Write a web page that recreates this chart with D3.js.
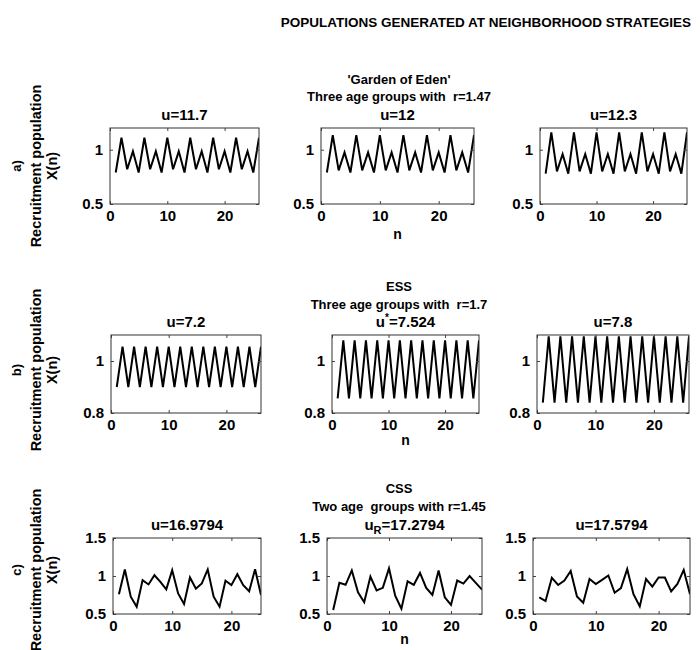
<!DOCTYPE html>
<html>
<head>
<meta charset="utf-8">
<script src="https://cdn.jsdelivr.net/npm/d3@7"></script>
<style>
  body { margin: 0; background: #fff; }
  text { font-family: "Liberation Sans", Arial, sans-serif; fill: #000; }
</style>
</head>
<body>
<svg id="fig" width="700" height="650"></svg>
<script>
// ---- time steps ----
const steps26 = [1,2,3,4,5,6,7,8,9,10,11,12,13,14,15,16,17,18,19,20,21,22,23,24,25,26];
const steps25 = [1,2,3,4,5,6,7,8,9,10,11,12,13,14,15,16,17,18,19,20,21,22,23,24,25];

// ---- row a: 'Garden of Eden', three age groups, r = 1.47 ----
const edenU117 = [0.79,1.11,0.82,0.985,0.79,1.11,0.82,0.985,0.79,1.11,0.82,0.985,0.79,1.11,0.82,0.985,0.79,1.11,0.82,0.985,0.79,1.11,0.82,0.985,0.79,1.11];
const edenU12  = [0.79,1.135,0.81,0.975,0.79,1.135,0.81,0.975,0.79,1.135,0.81,0.975,0.79,1.135,0.81,0.975,0.79,1.135,0.81,0.975,0.79,1.135,0.81,0.975,0.79,1.135];
const edenU123 = [0.78,1.16,0.80,0.96,0.78,1.16,0.80,0.96,0.78,1.16,0.80,0.96,0.78,1.16,0.80,0.96,0.78,1.16,0.80,0.96,0.78,1.16,0.80,0.96,0.78,1.16];

// ---- row b: ESS, three age groups, r = 1.7 ----
const essU72   = [0.90,1.055,0.90,1.055,0.90,1.055,0.90,1.055,0.90,1.055,0.90,1.055,0.90,1.055,0.90,1.055,0.90,1.055,0.90,1.055,0.90,1.055,0.90,1.055,0.90,1.055];
const essU7524 = [0.856,1.079,0.856,1.079,0.856,1.079,0.856,1.079,0.856,1.079,0.856,1.079,0.856,1.079,0.856,1.079,0.856,1.079,0.856,1.079,0.856,1.079,0.856,1.079,0.856,1.079];
const essU78   = [0.84,1.095,0.84,1.095,0.84,1.095,0.84,1.095,0.84,1.095,0.84,1.095,0.84,1.095,0.84,1.095,0.84,1.095,0.84,1.095,0.84,1.095,0.84,1.095,0.84,1.095];

// ---- row c: CSS, two age groups, r = 1.45 ----
const cssU169794 = [0.76,1.086,0.727,0.596,0.946,0.889,1.01,0.923,0.824,1.077,0.771,0.631,0.981,0.832,0.902,1.086,0.727,0.596,0.937,0.88,1.024,0.88,0.80,1.09,0.75];
const cssU172794 = [0.553,0.91,0.884,1.073,0.786,0.654,0.993,0.81,0.844,1.10,0.74,0.57,0.93,0.884,1.04,0.844,0.75,1.073,0.72,0.62,0.94,0.90,1.0,0.91,0.82];
const cssU175794 = [0.72,0.67,0.976,0.882,0.94,1.065,0.73,0.648,0.96,0.895,0.95,1.007,0.78,0.84,1.09,0.76,0.60,0.96,0.86,0.98,0.98,0.796,0.895,1.08,0.76];

// ---- axis ticks ----
const xTicks = [0, 10, 20];
const yTicksA = [0.5, 1];
const yTicksB = [0.8, 1];
const yTicksC = [0.5, 1, 1.5];

// ---- titles ----
const mainTitle = "POPULATIONS GENERATED AT NEIGHBORHOOD STRATEGIES";
const rowTitles = [
  ["'Garden of Eden'", "Three age groups with  r=1.47"],
  ["ESS", "Three age groups with  r=1.7"],
  ["CSS", "Two age  groups with r=1.45"]
];
const rowLetters = ["a)", "b)", "c)"];
const yLabel = "Recruitment population";
const yLabel2 = "X(n)";

// layout of each row of three panels
const rows = [
  { top: 128, bottom: 204, yDomain: [0.5, 1.2], yTicks: yTicksA, xMax: 26,
    titleY: [84, 101], labelY: 166, nY: 239,
    panels: [
      { x0: 110, x1: 259, n: steps26, v: edenU117, title: [["u=11.7"]] },
      { x0: 321, x1: 474, n: steps26, v: edenU12,  title: [["u=12"]] },
      { x0: 540, x1: 687, n: steps26, v: edenU123, title: [["u=12.3"]] }
    ] },
  { top: 335, bottom: 413, yDomain: [0.8, 1.1], yTicks: yTicksB, xMax: 26,
    titleY: [291, 309], labelY: 370, nY: 445,
    panels: [
      { x0: 111, x1: 261, n: steps26, v: essU72,   title: [["u=7.2"]] },
      { x0: 332, x1: 479, n: steps26, v: essU7524, title: [["u"], ["*", "sup"], ["=7.524"]] },
      { x0: 537, x1: 689, n: steps26, v: essU78,   title: [["u=7.8"]] }
    ] },
  { top: 538, bottom: 614, yDomain: [0.5, 1.5], yTicks: yTicksC, xMax: 25,
    titleY: [493, 511], labelY: 570, nY: 644,
    panels: [
      { x0: 113, x1: 261, n: steps25, v: cssU169794, title: [["u=16.9794"]] },
      { x0: 327, x1: 482, n: steps25, v: cssU172794, title: [["u"], ["R", "sub"], ["=17.2794"]] },
      { x0: 533, x1: 690, n: steps25, v: cssU175794, title: [["u=17.5794"]] }
    ] }
];

const svg = d3.select("#fig");

svg.append("text")
  .attr("x", 486).attr("y", 27)
  .attr("text-anchor", "middle")
  .style("font-size", "13.5px").style("font-weight", "bold")
  .text(mainTitle);

rows.forEach((row, ri) => {
  // row heading
  rowTitles[ri].forEach((t, k) => {
    svg.append("text")
      .attr("x", 399).attr("y", row.titleY[k])
      .attr("text-anchor", "middle")
      .style("font-size", "13px").style("font-weight", "bold")
      .style("white-space", "pre")
      .text(t);
  });

  // y label block
  const lab = svg.append("g").attr("transform", `translate(0,${row.labelY})`);
  [[21, rowLetters[ri], 13], [41, yLabel, 14.5], [57, yLabel2, 14.5]].forEach(([x, t, fs]) => {
    lab.append("text")
      .attr("transform", `translate(${x},0) rotate(-90)`)
      .attr("text-anchor", "middle")
      .style("font-size", fs + "px").style("font-weight", "bold")
      .style("font-family", "'Liberation Sans Narrow', 'Liberation Sans', sans-serif")
      .text(t);
  });

  row.panels.forEach((p, pi) => {
    const x = d3.scaleLinear().domain([0, row.xMax]).range([p.x0, p.x1]);
    const y = d3.scaleLinear().domain(row.yDomain).range([row.bottom, row.top]);
    const g = svg.append("g");
    const clipId = `clip-${ri}-${pi}`;
    g.append("clipPath").attr("id", clipId)
      .append("rect").attr("x", p.x0).attr("y", row.top)
      .attr("width", p.x1 - p.x0).attr("height", row.bottom - row.top);

    // series
    g.append("path")
      .datum(p.n.map((n, i) => [n, p.v[i]]))
      .attr("clip-path", `url(#${clipId})`)
      .attr("fill", "none").attr("stroke", "#000")
      .attr("stroke-width", 2).attr("stroke-linejoin", "miter")
      .attr("d", d3.line().x(d => x(d[0])).y(d => y(d[1])));

    // axes with inward ticks on all four sides
    const axB = d3.axisBottom(x).tickValues(xTicks).tickSizeInner(-3).tickSizeOuter(0).tickPadding(6);
    const axT = d3.axisTop(x).tickValues(xTicks).tickSizeInner(-3).tickSizeOuter(0).tickFormat("");
    const axL = d3.axisLeft(y).tickValues(row.yTicks).tickSizeInner(-3).tickSizeOuter(0).tickPadding(7).tickFormat(d3.format("~g"));
    const axR = d3.axisRight(y).tickValues(row.yTicks).tickSizeInner(-3).tickSizeOuter(0).tickFormat("");
    [[axB, `0,${row.bottom}`], [axT, `0,${row.top}`], [axL, `${p.x0},0`], [axR, `${p.x1},0`]].forEach(([ax, tr]) => {
      const a = g.append("g").attr("transform", `translate(${tr})`).call(ax);
      a.select(".domain").remove();
      a.selectAll("line").attr("stroke", "#444");
      a.selectAll("text").style("font-size", "15px").style("font-weight", "bold")
        .style("font-family", "'Liberation Sans', Arial, sans-serif").attr("fill", "#000");
    });
    g.append("rect")
      .attr("x", p.x0).attr("y", row.top)
      .attr("width", p.x1 - p.x0).attr("height", row.bottom - row.top)
      .attr("fill", "none").attr("stroke", "#333").attr("stroke-width", 1);

    // panel title
    const tt = g.append("text")
      .attr("x", (p.x0 + p.x1) / 2).attr("y", row.top - 8)
      .attr("text-anchor", "middle")
      .style("font-size", "15px").style("font-weight", "bold");
    p.title.forEach(([s, kind]) => {
      const sp = tt.append("tspan").text(s);
      if (kind === "sup") sp.attr("dy", -6).style("font-size", "10px");
      if (kind === "sub") sp.attr("dy", 4).style("font-size", "11px");
      if (kind === undefined && p.title.length > 1 && s.startsWith("=")) sp.attr("dy", p.title[1][1] === "sup" ? 6 : -4);
    });

    if (pi === 1) {
      g.append("text")
        .attr("x", (p.x0 + p.x1) / 2).attr("y", row.nY)
        .attr("text-anchor", "middle")
        .style("font-size", "14px").style("font-weight", "bold")
        .text("n");
    }
  });
});
</script>
</body>
</html>
